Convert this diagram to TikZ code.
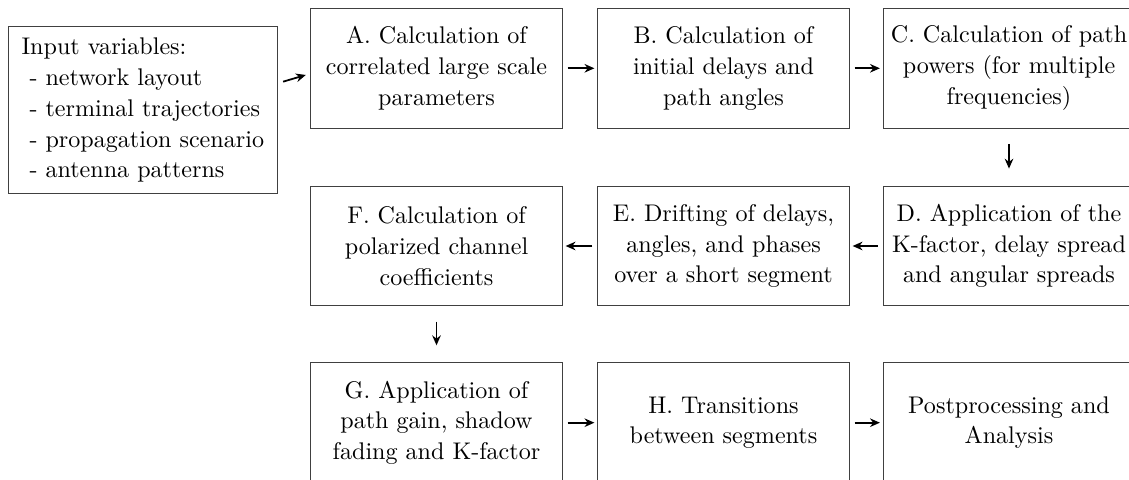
\documentclass[tikz,border=0pt]{standalone}
\usetikzlibrary{arrows.meta}
\begin{document}
\begin{tikzpicture}[x=0.4545pt,y=-0.4545pt,
  every node/.style={font=\fontsize{10.95pt}{14pt}\selectfont},
  box/.style={draw=black!75, line width=0.45pt, rectangle, align=center,
    minimum width=114.1pt, minimum height=54.5pt, inner sep=2pt},
  inbox/.style={draw=black!75, line width=0.45pt, rectangle, align=left,
    minimum width=122.3pt, minimum height=75.9pt, inner sep=2pt},
  arr/.style={-{Stealth[length=4.5pt,width=3.9pt]}, line width=0.8pt},
  harr/.style={arr, shorten <=2.3pt, shorten >=1.4pt},
  varr/.style={arr, shorten <=6.9pt, shorten >=7.7pt}]
\clip (0,0) rectangle (1129,480);
\node[inbox] (inp) at (142.8,110.3) {Input variables:\\
  ~- network layout\\ ~- terminal trajectories\\ ~- propagation scenario\\ ~- antenna patterns};
\node[box] (A) at (436.5,68.3) {A. Calculation of\\correlated large scale\\parameters};
\node[box] (B) at (723.5,68.3) {B. Calculation of\\initial delays and\\path angles};
\node[box] (C) at (1009,68.3) {C. Calculation of path\\powers (for multiple\\frequencies)};
\node[box] (D) at (1009,246) {D. Application of the\\K-factor, delay spread\\and angular spreads};
\node[box] (E) at (723.5,246) {E. Drifting of delays,\\angles, and phases\\over a short segment};
\node[box] (F) at (436.5,246) {F. Calculation of\\polarized channel\\coefficients};
\node[box] (G) at (436.5,422.7) {G. Application of\\path gain, shadow\\fading and K-factor};
\node[box] (H) at (723.5,422.7) {H. Transitions\\between segments};
\node[box] (P) at (1009,422.7) {Postprocessing and\\Analysis};
\draw[arr, shorten <=2.5pt, shorten >=2.2pt] ([yshift=12.3pt]inp.east) -- ([yshift=-2.4pt]A.west);
\draw[harr] (A) -- (B);
\draw[harr] (B) -- (C);
\draw[varr] (C) -- (D);
\draw[harr] (D) -- (E);
\draw[harr] (E) -- (F);
\draw[varr] (F) -- (G);
\draw[harr] (G) -- (H);
\draw[harr] (H) -- (P);
\end{tikzpicture}
\end{document}
